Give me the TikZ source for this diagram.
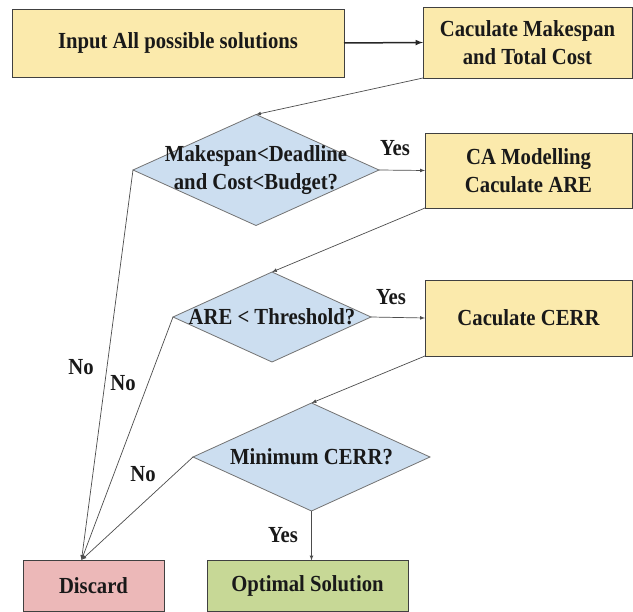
\documentclass[tikz,border=0pt]{standalone}
\usepackage{fontspec}
\setmainfont[FakeStretch=0.9]{Liberation Serif}
\usepackage{xcolor}
\usepackage{tikz}
\usetikzlibrary{shapes.geometric}

\definecolor{boxyellow}{RGB}{251,234,172}
\definecolor{diablue}{RGB}{204,222,240}
\definecolor{discardred}{RGB}{236,184,184}
\definecolor{optgreen}{RGB}{199,216,150}

\newcommand{\labfont}{\fontsize{23}{28}\selectfont\bfseries}

\tikzset{
    procbox/.style={draw=black!75, fill=boxyellow, line width=0.8pt, inner sep=0pt, outer sep=0pt, align=center, font=\labfont, text=black!90},
    decision/.style={diamond, draw=black!55, fill=diablue, line width=0.8pt, inner sep=0pt, outer sep=0pt},
    flow/.style={->, draw=black!70, line width=0.7pt},
    answer/.style={font=\labfont, text=black!90}
}

\begin{document}
\begin{tikzpicture}[x=1pt, y=-1pt, >=latex]
            \useasboundingbox (0,0) rectangle (633,612);

            % Process boxes
            \node[procbox, minimum width=332pt, minimum height=68pt] (input) at (178,43) {Input All possible solutions};
            \node[procbox, minimum width=209pt, minimum height=71pt] (makespan) at (527.5,42.5) {Caculate Makespan\\and Total Cost};
            \node[procbox, minimum width=207pt, minimum height=75pt] (camodel) at (528.5,170.5) {CA Modelling\\Caculate ARE};
            \node[procbox, minimum width=207pt, minimum height=76pt] (cerr) at (528.5,318) {Caculate CERR};
            \node[procbox, fill=discardred, minimum width=141pt, minimum height=51pt] (discard) at (93.5,585.5) {Discard};
            \node[procbox, fill=optgreen, minimum width=201pt, minimum height=51pt] (optimal) at (307.5,586) {Optimal Solution};

            % Decisions
            \node[decision, minimum width=246pt, minimum height=111pt] (budget) at (256,170) {};
            \node[decision, minimum width=198pt, minimum height=90pt] (threshold) at (272,317) {};
            \node[decision, minimum width=237pt, minimum height=108pt] (mincerr) at (311.5,457) {};
            \node[answer, align=center] (budgettext) at (budget) {Makespan<Deadline\\and Cost<Budget?};
            \node[answer] (thresholdtext) at (threshold) {ARE < Threshold?};
            \node[answer] (mincerrtext) at (mincerr) {Minimum CERR?};

            % Flow
            \draw[->, line width=1.5pt, black!85] (input.east) -- (makespan.west);
            \draw[flow] (makespan.south west) -- (budget.north);
            \draw[flow] (budget.east) -- (camodel.west);
            \draw[flow] (camodel.south west) -- (threshold.north);
            \draw[flow] (threshold.east) -- (cerr.west);
            \draw[flow] (cerr.south west) -- (mincerr.north);
            \draw[flow] (mincerr.south) -- (mincerr.south |- optimal.north);

            % Rejections
            \draw[flow] (budget.west) -- ([xshift=-12pt]discard.north);
            \draw[flow] (threshold.west) -- ([xshift=-12pt]discard.north);
            \draw[flow] (mincerr.west) -- ([xshift=-12pt]discard.north);

            % Labels
            \node[answer] (yesbudget) at (395,148) {Yes};
            \node[answer] (yesthreshold) at (391,297) {Yes};
            \node[answer] (yesmincerr) at (283,535) {Yes};
            \node[answer] (nobudget) at (81,367) {No};
            \node[answer] (nothreshold) at (123,383) {No};
            \node[answer] (nomincerr) at (143,474) {No};

        \end{tikzpicture}
\end{document}
